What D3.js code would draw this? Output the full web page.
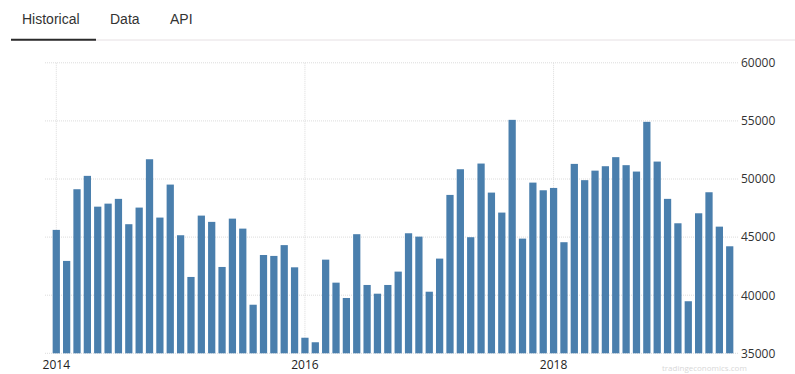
<!DOCTYPE html>
<html>
<head>
<meta charset="utf-8">
<script src="https://cdn.jsdelivr.net/npm/d3@7"></script>
<style>
  html, body { margin: 0; padding: 0; background: #fff; }
  svg { display: block; }
</style>
</head>
<body>
<svg id="chart" width="795" height="374"></svg>
<script>
// ---- Data ----
const months = [
  "2014-01","2014-02","2014-03","2014-04","2014-05","2014-06","2014-07","2014-08","2014-09","2014-10","2014-11","2014-12",
  "2015-01","2015-02","2015-03","2015-04","2015-05","2015-06","2015-07","2015-08","2015-09","2015-10","2015-11","2015-12",
  "2016-01","2016-02","2016-03","2016-04","2016-05","2016-06","2016-07","2016-08","2016-09","2016-10","2016-11","2016-12",
  "2017-01","2017-02","2017-03","2017-04","2017-05","2017-06","2017-07","2017-08","2017-09","2017-10","2017-11","2017-12",
  "2018-01","2018-02","2018-03","2018-04","2018-05","2018-06","2018-07","2018-08","2018-09","2018-10","2018-11","2018-12",
  "2019-01","2019-02","2019-03","2019-04","2019-05","2019-06"
];
const values = [
  45620, 42950, 49120, 50270, 47620, 47880, 48290, 46110, 47540, 51700, 46680, 49520,
  45160, 41570, 46850, 46310, 42430, 46590, 45730, 39180, 43460, 43380, 44310, 42400,
  36340, 35950, 43060, 41080, 39760, 45250, 40880, 40130, 40880, 42030, 45330, 45040,
  40300, 43150, 48630, 50840, 44990, 51330, 48830, 47110, 55090, 44870, 49690, 49030,
  49230, 44560, 51300, 49900, 50720, 51100, 51880, 51190, 50640, 54920, 51500, 48290,
  46190, 39480, 47050, 48860, 45900, 44210
];
const xTickMonths = ["2014-01", "2016-01", "2018-01"];
const xTickLabels = ["2014", "2016", "2018"];
const yTicks = [35000, 40000, 45000, 50000, 55000, 60000];
const tabs = ["Historical", "Data", "API"];

// ---- Layout ----
const svg = d3.select("#chart");

const x = d3.scaleBand()
  .domain(months)
  .range([51.1, 734.9])
  .paddingInner(0.3)
  .paddingOuter(0.15);

const y = d3.scaleLinear()
  .domain([35000, 60000])
  .range([353.3, 62.8]);

// ---- Tabs ----
const tabX = [22, 110, 170];
svg.selectAll("text.tab")
  .data(tabs)
  .join("text")
  .attr("class", "tab")
  .attr("x", (d, i) => tabX[i])
  .attr("y", 24)
  .attr("font-family", "'Liberation Sans', Arial, sans-serif")
  .attr("font-size", 14)
  .attr("fill", "#333")
  .text(d => d);

svg.append("line")
  .attr("x1", 11).attr("x2", 795)
  .attr("y1", 40).attr("y2", 40)
  .attr("stroke", "#e6e0e3").attr("stroke-width", 1);
svg.append("line")
  .attr("x1", 11).attr("x2", 96)
  .attr("y1", 39.7).attr("y2", 39.7)
  .attr("stroke", "#2b2b2b").attr("stroke-width", 2);

// ---- Gridlines ----
const grid = svg.append("g");
grid.selectAll("line.h")
  .data(yTicks)
  .join("line")
  .attr("class", "h")
  .attr("x1", 45).attr("x2", 738)
  .attr("y1", d => y(d)).attr("y2", d => y(d))
  .attr("stroke", "#dcdcdc")
  .attr("stroke-dasharray", "1,1")
  .attr("stroke-width", 1);

grid.selectAll("line.v")
  .data(xTickMonths)
  .join("line")
  .attr("class", "v")
  .attr("x1", d => x(d) + x.bandwidth() / 2)
  .attr("x2", d => x(d) + x.bandwidth() / 2)
  .attr("y1", y(60000)).attr("y2", y(35000))
  .attr("stroke", "#dcdcdc")
  .attr("stroke-dasharray", "1,1")
  .attr("stroke-width", 1);

// ---- Bars ----
svg.append("g")
  .selectAll("rect")
  .data(months.map((m, i) => ({ m, v: values[i] })))
  .join("rect")
  .attr("x", d => x(d.m))
  .attr("width", x.bandwidth())
  .attr("y", d => y(d.v))
  .attr("height", d => y(35000) - y(d.v))
  .attr("fill", "#4a7fad");

// ---- Y axis (right) ----
const yAxis = d3.axisRight(y)
  .tickValues(yTicks)
  .tickSize(0)
  .tickPadding(0)
  .tickFormat(d3.format("d"));
const yg = svg.append("g")
  .attr("transform", "translate(741,0)")
  .call(yAxis);
yg.select(".domain").remove();
yg.selectAll("text")
  .attr("font-family", "'Open Sans', sans-serif")
  .attr("font-size", 12)
  .attr("fill", "#333");

// ---- X axis ----
const labelMap = new Map(xTickMonths.map((m, i) => [m, xTickLabels[i]]));
const xAxis = d3.axisBottom(x)
  .tickValues(xTickMonths)
  .tickSize(0)
  .tickPadding(7)
  .tickFormat(d => labelMap.get(d));
const xg = svg.append("g")
  .attr("transform", `translate(0,${y(35000)})`)
  .call(xAxis);
xg.select(".domain").remove();
xg.selectAll("text")
  .attr("font-family", "'Open Sans', sans-serif")
  .attr("font-size", 12)
  .attr("fill", "#222");

// ---- faint source watermark ----
svg.append("text")
  .attr("x", 662).attr("y", 371)
  .attr("font-family", "'Open Sans', sans-serif")
  .attr("font-size", 8)
  .attr("fill", "#d8d8d8")
  .text("tradingeconomics.com");
</script>
</body>
</html>
